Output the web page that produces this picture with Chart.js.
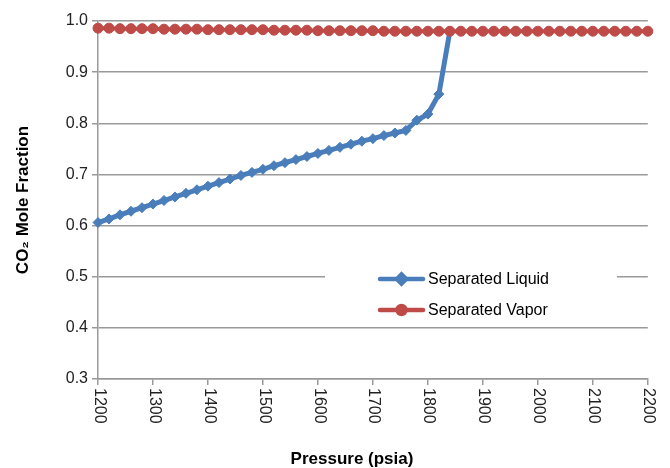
<!DOCTYPE html>
<html>
<head>
<meta charset="utf-8">
<script src="https://cdn.jsdelivr.net/npm/chart.js@4"></script>
<style>
  html, body { margin: 0; padding: 0; background: #fff; }
  #wrap { width: 670px; height: 468px; position: relative; }
</style>
</head>
<body>
<div id="wrap"><canvas id="c" width="670" height="468"></canvas></div>
<script>
const liquidPressure = [1200,1220,1240,1260,1280,1300,1320,1340,1360,1380,1400,1420,1440,1460,1480,1500,1520,1540,1560,1580,1600,1620,1640,1660,1680,1700,1720,1740,1760,1780,1800,1820,1840];
const liquidCO2 = [0.606,0.613,0.621,0.628,0.635,0.642,0.649,0.656,0.663,0.670,0.677,0.684,0.691,0.698,0.704,0.710,0.717,0.723,0.729,0.735,0.741,0.747,0.753,0.759,0.765,0.770,0.776,0.781,0.786,0.806,0.818,0.857,0.980];

const vaporPressure = [1200,1220,1240,1260,1280,1300,1320,1340,1360,1380,1400,1420,1440,1460,1480,1500,1520,1540,1560,1580,1600,1620,1640,1660,1680,1700,1720,1740,1760,1780,1800,1820,1840,1860,1880,1900,1920,1940,1960,1980,2000,2020,2040,2060,2080,2100,2120,2140,2160,2180,2200];
const vaporCO2 = [0.986,0.986,0.985,0.985,0.985,0.985,0.984,0.984,0.984,0.984,0.983,0.983,0.983,0.983,0.983,0.983,0.982,0.982,0.982,0.982,0.981,0.981,0.981,0.981,0.981,0.981,0.980,0.980,0.980,0.980,0.980,0.980,0.980,0.980,0.980,0.980,0.980,0.980,0.980,0.980,0.980,0.980,0.980,0.980,0.980,0.980,0.980,0.980,0.980,0.980,0.980];

const xTickLabels = ['1200','1300','1400','1500','1600','1700','1800','1900','2000','2100','2200'];
const yTickLabels = ['0.3','0.4','0.5','0.6','0.7','0.8','0.9','1.0'];
const seriesNames = ['Separated Liquid','Separated Vapor'];
const xTitle = 'Pressure (psia)';
const yTitle = 'CO₂ Mole Fraction';

const BLUE = '#4a7ebb';
const RED = '#be4b48';
const GRID = '#9a9a9a';
const FONT = "'Liberation Sans', Arial, sans-serif";

const toPoints = (xs, ys) => xs.map((x, i) => ({ x: x, y: ys[i] }));

const rotatedXLabels = {
  id: 'rotatedXLabels',
  afterDraw(chart) {
    const xs = chart.scales.x;
    const ctx = chart.ctx;
    ctx.save();
    ctx.fillStyle = '#222';
    ctx.font = '16px ' + FONT;
    ctx.textAlign = 'left';
    ctx.textBaseline = 'middle';
    xTickLabels.forEach(lbl => {
      const px = xs.getPixelForValue(Number(lbl));
      ctx.save();
      ctx.translate(px + 1, xs.top + 9);
      ctx.rotate(Math.PI / 2);
      ctx.fillText(lbl, 0, 0);
      ctx.restore();
    });
    // x axis title
    ctx.fillStyle = '#000';
    ctx.font = 'bold 17px ' + FONT;
    ctx.textAlign = 'center';
    ctx.textBaseline = 'alphabetic';
    ctx.fillText(xTitle, 352, 464);
    ctx.restore();
  }
};

const insideLegend = {
  id: 'insideLegend',
  afterDraw(chart) {
    const ctx = chart.ctx;
    ctx.save();
    ctx.fillStyle = '#fff';
    ctx.fillRect(325, 262, 292, 60);
    const rows = [
      { y: 279, color: BLUE, style: 'rectRot', r: 4.5, name: seriesNames[0] },
      { y: 310, color: RED, style: 'circle', r: 4, name: seriesNames[1] }
    ];
    rows.forEach(r => {
      ctx.strokeStyle = r.color;
      ctx.lineWidth = 4.5;
      ctx.lineCap = 'round';
      ctx.beginPath();
      ctx.moveTo(380, r.y);
      ctx.lineTo(423, r.y);
      ctx.stroke();
      ctx.fillStyle = r.color;
      Chart.helpers.drawPoint(ctx, { pointStyle: r.style, radius: r.r, borderWidth: 1 }, 401.5, r.y);
      ctx.fill();
      ctx.fillStyle = '#000';
      ctx.font = '16px ' + FONT;
      ctx.textAlign = 'left';
      ctx.textBaseline = 'middle';
      ctx.fillText(r.name, 428, r.y + 1);
    });
    ctx.restore();
  }
};

new Chart(document.getElementById('c'), {
  type: 'line',
  data: {
    datasets: [
      {
        label: seriesNames[0],
        data: toPoints(liquidPressure, liquidCO2),
        borderColor: BLUE,
        backgroundColor: BLUE,
        borderWidth: 5,
        pointStyle: 'rectRot',
        pointRadius: 5,
        pointBorderWidth: 1,
        pointBorderColor: BLUE,
        pointBackgroundColor: BLUE,
        tension: 0,
        clip: false,
        order: 2
      },
      {
        label: seriesNames[1],
        data: toPoints(vaporPressure, vaporCO2),
        borderColor: RED,
        backgroundColor: RED,
        borderWidth: 4,
        pointStyle: 'circle',
        pointRadius: 5,
        pointBorderWidth: 1,
        pointBorderColor: RED,
        pointBackgroundColor: RED,
        tension: 0,
        clip: false,
        order: 1
      }
    ]
  },
  options: {
    responsive: false,
    animation: false,
    devicePixelRatio: 1,
    layout: { padding: { top: 21, right: 20, left: 0, bottom: 0 } },
    plugins: {
      legend: { display: false },
      tooltip: { enabled: false }
    },
    scales: {
      x: {
        type: 'linear',
        min: 1200,
        max: 2200,
        afterFit(scale) { scale.height = 89; },
        ticks: {
          stepSize: 100,
          color: 'rgba(0,0,0,0)',
          font: { size: 16, family: FONT },
          minRotation: 90,
          maxRotation: 90,
          callback: (v) => xTickLabels.includes(String(v)) ? String(v) : ''
        },
        grid: { drawOnChartArea: false, drawTicks: true, tickLength: 6, color: GRID, lineWidth: 1.5 },
        border: { display: true, color: GRID, width: 1.5 },
        title: { display: false, text: xTitle }
      },
      y: {
        min: 0.3,
        max: 1.0,
        afterFit(scale) { scale.width = 98; },
        ticks: {
          stepSize: 0.1,
          color: '#222',
          font: { size: 16, family: FONT },
          padding: 4,
          callback: (v) => {
            const s = Number(v).toFixed(1);
            return yTickLabels.includes(s) ? s : '';
          }
        },
        grid: { color: GRID, lineWidth: 1.5, tickLength: 6 },
        border: { display: true, color: GRID, width: 1.5 },
        title: {
          display: true,
          text: yTitle,
          color: '#000',
          font: { size: 17, weight: 'bold', family: FONT },
          padding: { top: 13, bottom: 0 }
        }
      }
    }
  },
  plugins: [insideLegend, rotatedXLabels]
});
</script>
</body>
</html>
